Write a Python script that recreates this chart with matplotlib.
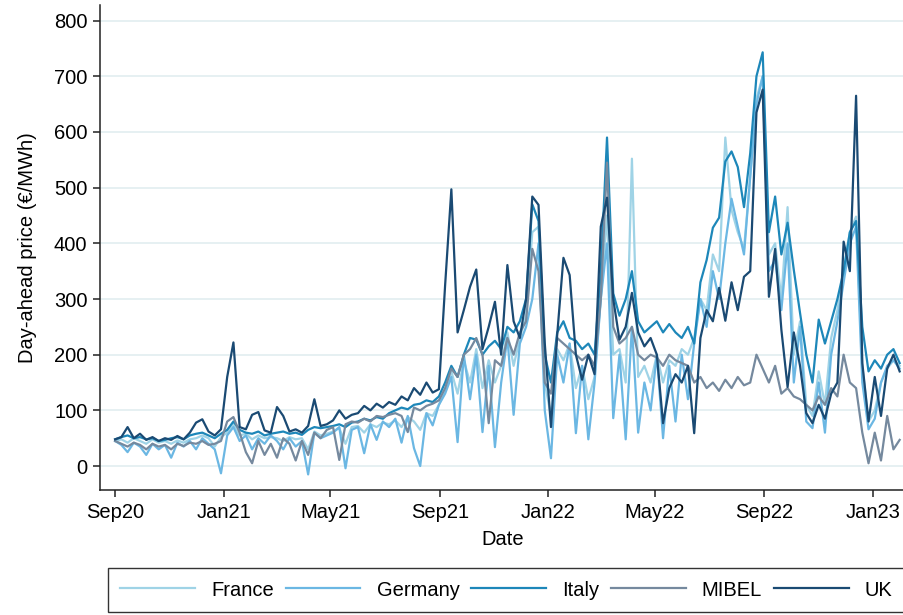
import numpy as np
import pandas as pd
import matplotlib
matplotlib.use("Agg")
import matplotlib.pyplot as plt
import matplotlib.dates as mdates

plt.rcParams['font.family'] = ['Liberation Sans', 'DejaVu Sans']

# weekly readings, starting 1 Sep 2020
dates = pd.date_range('2020-09-01', periods=127, freq='7D')

france = [45, 48, 42, 50, 45, 40, 48, 42, 45, 40, 46, 42, 48, 50, 55, 50, 35, 52,
          60, 75, 55, 58, 48, 55, 50, 52, 50, 45, 52, 48, 50, 30, 62, 55, 58,
          62, 68, 40, 70, 72, 60, 75, 70, 78, 75, 82, 70, 88, 80, 65, 95, 90, 110,
          135, 170, 130, 190, 150, 210, 140, 190, 150, 180, 240, 180, 230, 270, 420, 430, 150,
          90, 210, 190, 220, 140, 180, 120, 160, 300, 450, 200, 210, 150, 552, 160, 180, 150,
          200, 150, 190, 180, 210, 200, 230, 300, 280, 380, 350, 590, 460, 420, 390, 520, 660, 700,
          380, 400, 300, 465, 200, 260, 110, 90, 170, 110, 230, 280, 350, 420, 448, 180, 80, 100,
          150, 175, 190, 180]

germany = [45, 38, 25, 42, 35, 20, 40, 30, 38, 15, 42, 35, 45, 30, 50, 40, 30, -13,
           55, 70, 45, 55, 30, 50, 40, 55, 45, 30, 50, 35, 45, -15, 60, 50, 55,
           60, 70, -4, 65, 70, 23, 75, 47, 80, 70, 85, 42, 90, 32, 0, 95, 73, 110,
           130, 160, 43, 200, 120, 200, 61, 180, 34, 150, 230, 92, 220, 250, 300, 400, 100,
           14, 200, 150, 220, 59, 180, 48, 150, 300, 400, 86, 200, 48, 250, 60, 150, 100,
           200, 50, 180, 80, 200, 120, 220, 300, 250, 350, 300, 400, 480, 430, 380, 520, 650, 700,
           350, 370, 280, 400, 150, 250, 80, 68, 150, 60, 200, 260, 330, 400, 430, 150, 66, 85,
           150, 180, 190, 175]

italy = [48, 52, 55, 50, 52, 48, 50, 45, 47, 50, 52, 48, 55, 58, 60, 55, 50, 58,
         65, 80, 65, 60, 58, 62, 55, 58, 60, 62, 58, 60, 56, 65, 70, 68, 70,
         72, 75, 70, 78, 80, 85, 82, 88, 85, 95, 100, 105, 102, 110, 112, 118, 115, 125,
         150, 180, 160, 200, 230, 227, 200, 215, 225, 210, 250, 240, 260, 300, 470, 440, 200,
         150, 240, 260, 230, 225, 210, 220, 200, 350, 590, 310, 270, 300, 350, 260, 240, 250,
         260, 240, 255, 240, 230, 250, 220, 330, 370, 428, 446, 547, 565, 537, 465, 562, 700, 743,
         420, 484, 380, 437, 352, 275, 200, 150, 263, 220, 260, 300, 350, 420, 440, 250, 170, 190,
         175, 200, 210, 185]

mibel = [45, 40, 35, 42, 38, 30, 40, 35, 38, 30, 40, 36, 42, 40, 45, 38, 40, 45,
         80, 88, 60, 25, 5, 45, 20, 40, 15, 50, 40, 10, 45, 20, 60, 50, 65,
         70, 11, 75, 80, 78, 85, 80, 90, 88, 92, 95, 90, 61, 105, 100, 108, 112, 118,
         140, 175, 160, 200, 210, 230, 200, 77, 190, 180, 230, 200, 240, 260, 390, 350, 150,
         130, 230, 220, 210, 200, 190, 200, 180, 300, 545, 250, 220, 230, 250, 200, 190, 200,
         195, 180, 200, 190, 185, 180, 150, 160, 140, 150, 135, 155, 140, 160, 145, 150, 200, 175,
         150, 180, 130, 140, 125, 120, 110, 100, 125, 110, 140, 125, 200, 150, 140, 60, 5, 60,
         10, 90, 30, 47]

uk = [48, 52, 70, 50, 58, 47, 52, 45, 50, 47, 54, 48, 60, 78, 84, 62, 55, 66,
      160, 222, 70, 66, 92, 97, 64, 60, 106, 90, 62, 66, 60, 72, 120, 72, 75,
      82, 100, 85, 92, 95, 108, 100, 112, 105, 115, 110, 125, 118, 140, 128, 150, 132, 138,
      325, 497, 240, 280, 322, 353, 210, 250, 295, 200, 361, 260, 230, 300, 484, 469, 221,
      70, 236, 374, 343, 200, 155, 200, 165, 430, 482, 300, 227, 250, 311, 240, 215, 230,
      200, 77, 140, 165, 150, 180, 59, 230, 280, 260, 320, 261, 330, 280, 340, 350, 635, 676,
      304, 390, 245, 142, 240, 180, 95, 77, 110, 85, 130, 150, 403, 350, 665, 185, 80, 160,
      90, 175, 200, 170]

names = ['France', 'Germany', 'Italy', 'MIBEL', 'UK']
colors = ['#9fd3e6', '#6bb7e3', '#1d87b9', '#75899e', '#1a4a73']
series = [france, germany, italy, mibel, uk]

fs = 14.5

fig = plt.figure(figsize=(9.04, 6.15), dpi=100)
ax = fig.add_axes([100 / 904, 125 / 615, 805 / 904, 485 / 615])

for name, col, vals in zip(names, colors, series):
    ax.plot(dates, vals, color=col, lw=1.6, label=name)

ax.set_ylim(-43, 828)
ax.set_xlim(pd.Timestamp('2020-08-15'), pd.Timestamp('2023-02-06'))
ax.set_yticks(np.arange(0, 801, 100))
ticks = pd.to_datetime(['2020-09-01', '2021-01-01', '2021-05-01', '2021-09-01',
                        '2022-01-01', '2022-05-01', '2022-09-01', '2023-01-01'])
ax.set_xticks(ticks)
ax.xaxis.set_major_formatter(mdates.DateFormatter('%b%y'))

ax.yaxis.grid(True, color='#e2eef0', lw=1.2)
ax.set_axisbelow(True)
for s in ['top', 'right']:
    ax.spines[s].set_visible(False)
for s in ['left', 'bottom']:
    ax.spines[s].set_color('#222222')
    ax.spines[s].set_linewidth(1.1)
ax.tick_params(direction='out', length=5, width=1.1, color='#222222', labelsize=fs, pad=4)

ax.set_ylabel('Day-ahead price (€/MWh)', fontsize=fs, labelpad=12)
ax.set_xlabel('Date', fontsize=fs, labelpad=6)

leg = fig.legend(loc='lower left', bbox_to_anchor=(108 / 904, 3 / 615, 797 / 904, 45 / 615),
                 mode='expand', ncol=5, fontsize=fs, frameon=True, fancybox=False,
                 handlelength=3.7, borderaxespad=0, handletextpad=0.8, borderpad=0.62)
leg.get_frame().set_edgecolor('black')
leg.get_frame().set_linewidth(1.0)

fig.savefig('out.png', dpi=100)
